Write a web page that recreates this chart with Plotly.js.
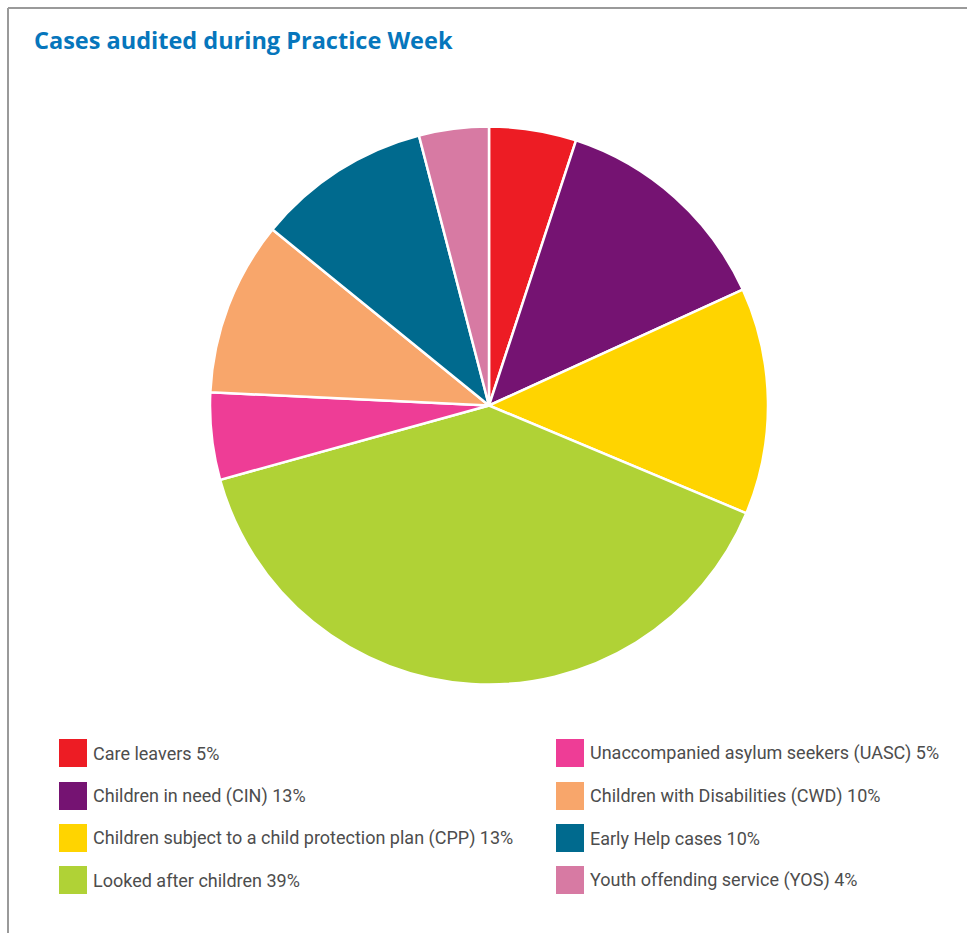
<!DOCTYPE html>
<html>
<head>
<meta charset="utf-8">
<script src="https://cdn.plot.ly/plotly-3.0.1.min.js"></script>
<style>html,body{margin:0;padding:0;background:#fff;}#chart{width:967px;height:933px;}</style>
</head>
<body>
<div id="chart"></div>
<script>
const categories = ["Care leavers","Children in need (CIN)","Children subject to a child protection plan (CPP)","Looked after children","Unaccompanied asylum seekers (UASC)","Children with Disabilities (CWD)","Early Help cases","Youth offending service (YOS)"];
const percents = [5, 13, 13, 39, 5, 10, 10, 4];
const colors = ["#ED1C24","#751372","#FFD400","#B0D236","#EE3D96","#F8A66B","#006A8E","#D77AA3"];
const legendColumn = [0, 0, 0, 0, 1, 1, 1, 1];
const legendRow = [0, 1, 2, 3, 0, 1, 2, 3];
const titleText = "Cases audited during Practice Week";

const W = 967, H = 933;
const px = x => x / W;
const py = y => 1 - y / H;

const cx = 489, cy = 405.5, R = 279;

const trace = {
  type: "pie",
  labels: categories,
  values: percents,
  sort: false,
  direction: "clockwise",
  rotation: 0,
  textinfo: "none",
  hoverinfo: "label+percent",
  showlegend: false,
  marker: {colors: colors, line: {color: "#ffffff", width: 2.5}},
  domain: {x: [px(cx - R), px(cx + R)], y: [py(cy + R), py(cy - R)]}
};

const shapes = [
  {type: "line", xref: "paper", yref: "paper", x0: px(8), x1: px(8), y0: py(8), y1: 0, line: {color: "#9a9a9a", width: 2}},
  {type: "line", xref: "paper", yref: "paper", x0: px(8), x1: 1, y0: py(8), y1: py(8), line: {color: "#9a9a9a", width: 2}}
];
const annotations = [{
  text: "<b>" + titleText + "</b>", xref: "paper", yref: "paper",
  x: px(32), y: py(40), xanchor: "left", yanchor: "middle", showarrow: false,
  font: {family: "'Open Sans', sans-serif", size: 23.5, color: "#0676BC"}
}];

const colSwatchX = [59, 556];
const colTextX = [91, 588];
const rowY = [753, 796, 838, 880];
categories.forEach((c, i) => {
  const sx = colSwatchX[legendColumn[i]];
  const ry = rowY[legendRow[i]];
  shapes.push({type: "rect", xref: "paper", yref: "paper",
    x0: px(sx), x1: px(sx + 28), y0: py(ry + 14), y1: py(ry - 14),
    fillcolor: colors[i], line: {width: 0}});
  annotations.push({text: c + " " + percents[i] + "%", xref: "paper", yref: "paper",
    x: px(colTextX[legendColumn[i]]), y: py(ry), xanchor: "left", yanchor: "middle", showarrow: false,
    font: {family: "Roboto, sans-serif", size: 18, color: "#4d4d4d"}});
});

const layout = {
  width: W, height: H,
  margin: {l: 0, r: 0, t: 0, b: 0},
  paper_bgcolor: "#ffffff",
  showlegend: false,
  shapes: shapes,
  annotations: annotations
};
Plotly.newPlot("chart", [trace], layout, {displayModeBar: false, staticPlot: true});
</script>
</body>
</html>
